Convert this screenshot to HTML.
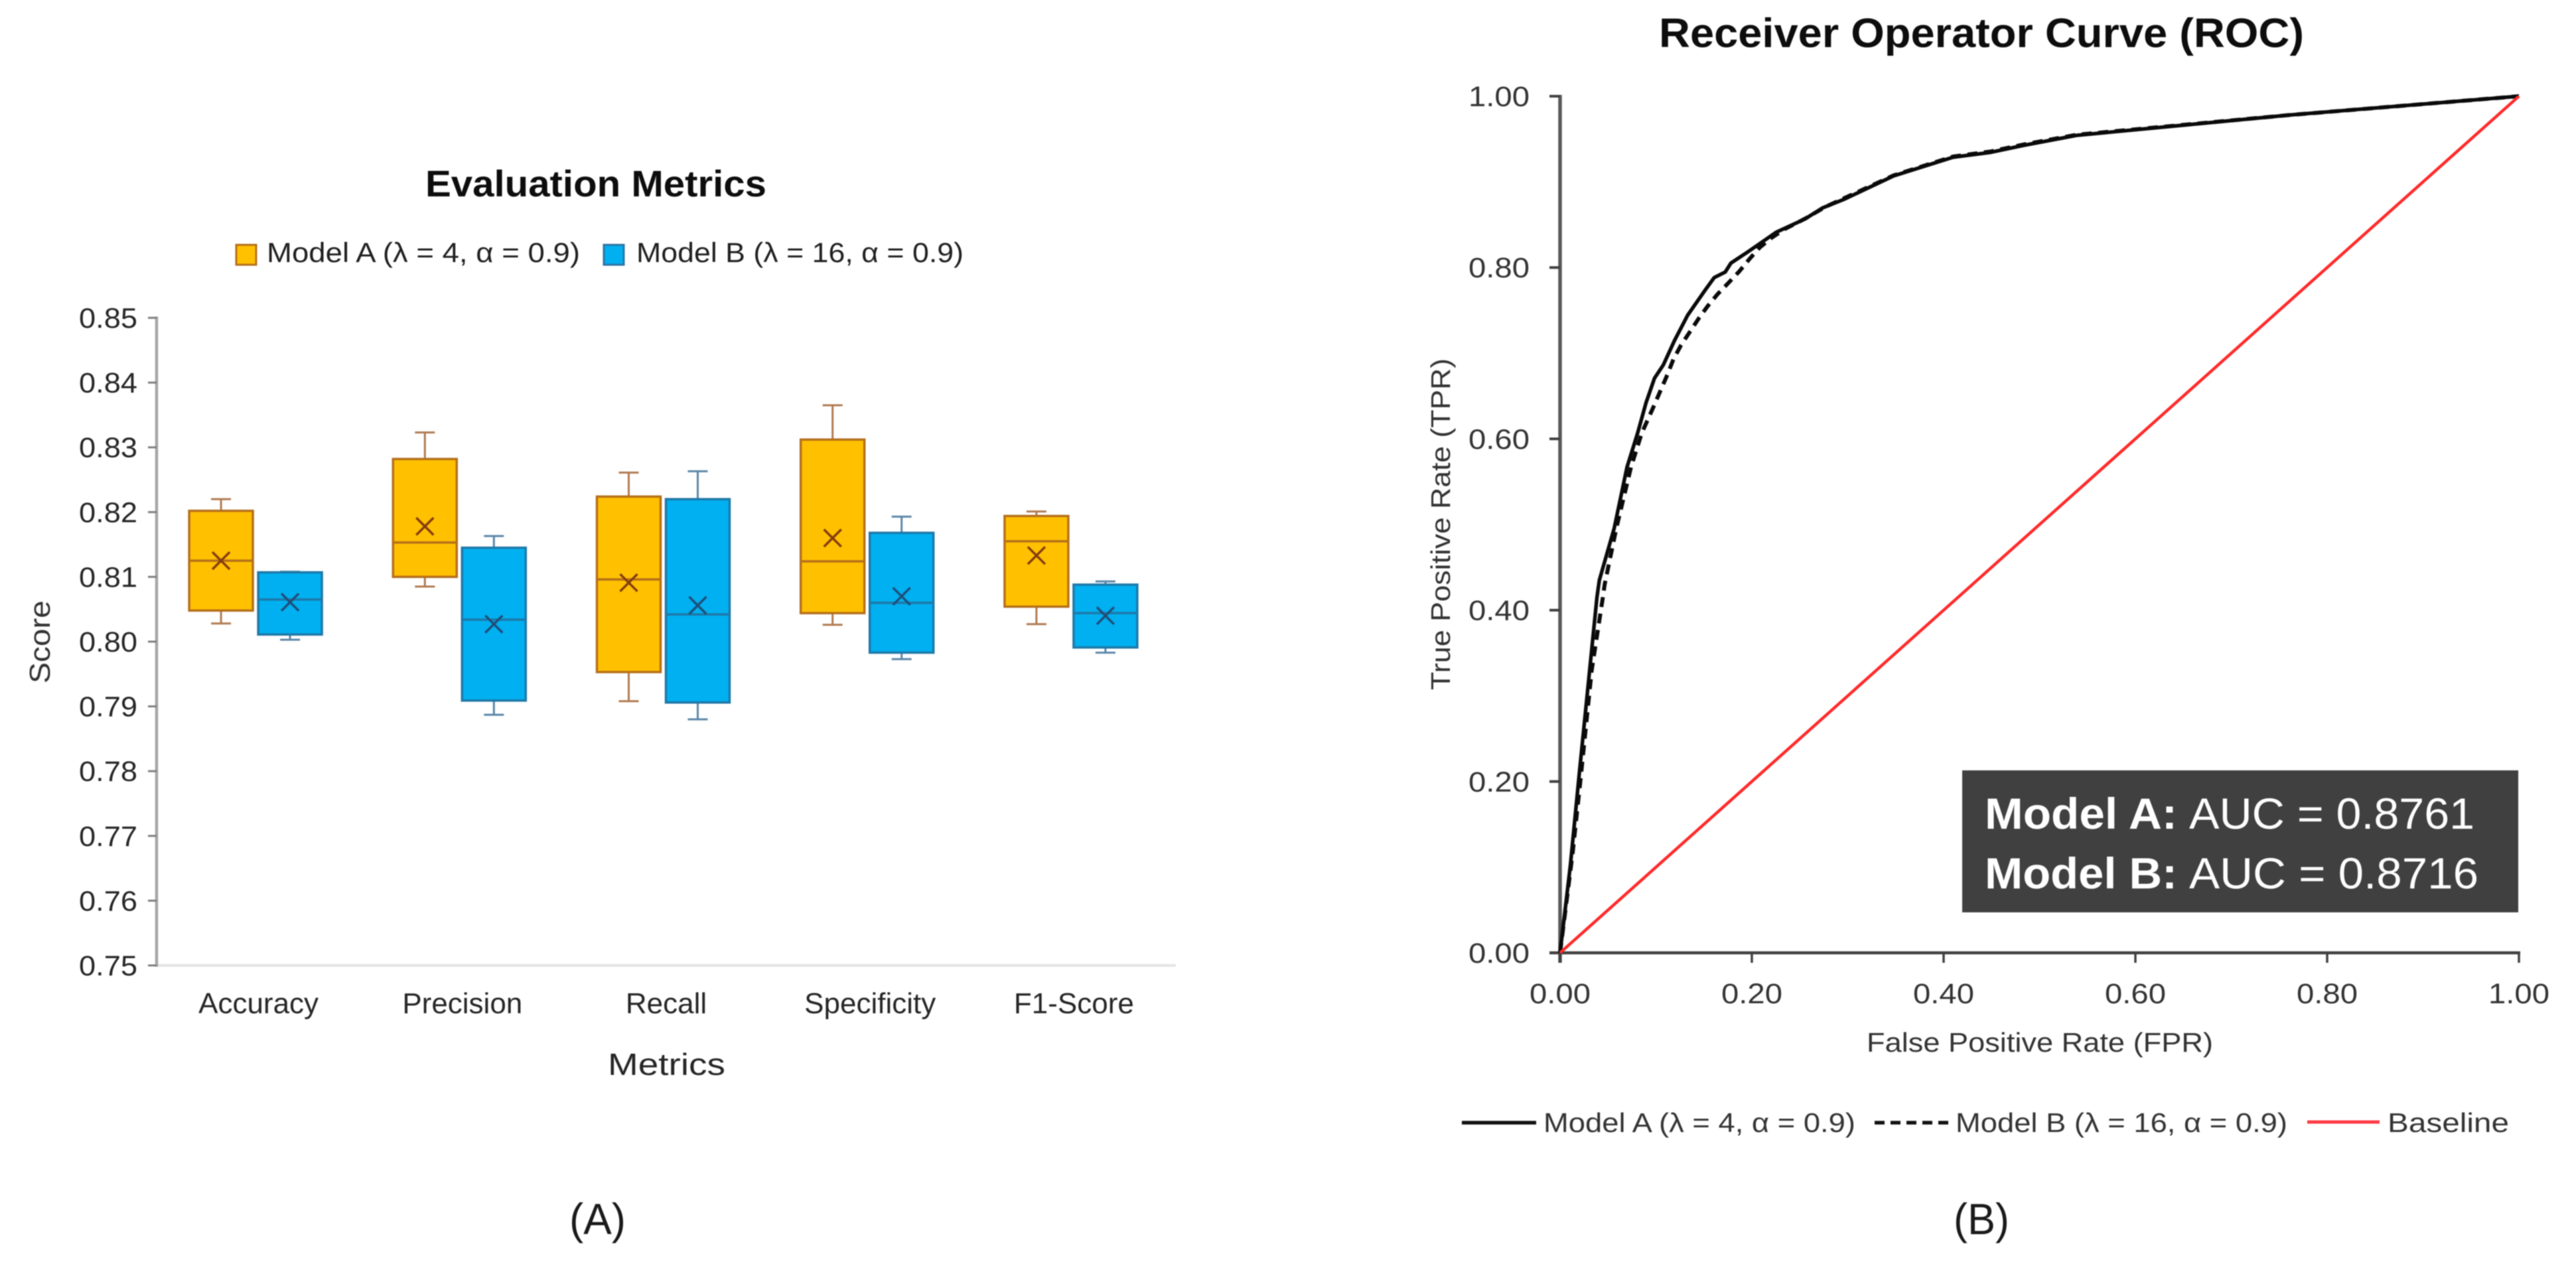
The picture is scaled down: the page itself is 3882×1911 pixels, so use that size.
<!DOCTYPE html>
<html lang="en">
<head>
<meta charset="utf-8">
<title>Evaluation Metrics and ROC</title>
<style>
html,body{margin:0;padding:0;background:#fff;}
svg{display:block;filter:blur(0.7px);}
text{font-family:"Liberation Sans",sans-serif;}
</style>
</head>
<body>
<svg id="figure" xmlns="http://www.w3.org/2000/svg" width="3882" height="1911" viewBox="0 0 3882 1911">
  <rect width="3882" height="1911" fill="#ffffff"/>

  <g id="panel-a">
    <text x="641" y="296" font-size="56" font-weight="700" fill="#0d0d0d" textLength="514" lengthAdjust="spacingAndGlyphs">Evaluation Metrics</text>
    <rect x="356" y="369" width="30" height="30" fill="#FFC000" stroke="#B5701A" stroke-width="3"/>
    <text x="402" y="395" font-size="42" fill="#1f1f1f" textLength="472" lengthAdjust="spacingAndGlyphs">Model A (λ = 4, α = 0.9)</text>
    <rect x="910" y="369" width="30" height="30" fill="#00B0F0" stroke="#2E75A6" stroke-width="3"/>
    <text x="959" y="395" font-size="42" fill="#1f1f1f" textLength="493" lengthAdjust="spacingAndGlyphs">Model B (λ = 16, α = 0.9)</text>
    <text transform="translate(75,1030) rotate(-90)" font-size="44" fill="#333333" textLength="125" lengthAdjust="spacingAndGlyphs">Score</text>
    <text x="916" y="1620" font-size="46" fill="#262626" textLength="177" lengthAdjust="spacingAndGlyphs">Metrics</text>
    <text x="858" y="1860" font-size="66" fill="#1a1a1a" textLength="85" lengthAdjust="spacingAndGlyphs">(A)</text>
    <g id="box-axes"></g>
    <g id="box-marks"></g>
  </g>

  <g id="panel-b">
    <text x="2500" y="71" font-size="62" font-weight="700" fill="#0d0d0d" textLength="972" lengthAdjust="spacingAndGlyphs">Receiver Operator Curve (ROC)</text>
    <text transform="translate(2185,1040) rotate(-90)" font-size="41" fill="#333333" textLength="500" lengthAdjust="spacingAndGlyphs">True Positive Rate (TPR)</text>
    <text x="2813" y="1585" font-size="41" fill="#333333" textLength="522" lengthAdjust="spacingAndGlyphs">False Positive Rate (FPR)</text>
    <g id="roc-axes"></g>
    <g id="roc-marks"></g>
    <g>
      <rect x="2957" y="1161" width="838" height="214" fill="#404040"/>
      <text x="2991" y="1249" font-size="66" font-weight="700" fill="#ffffff" textLength="290" lengthAdjust="spacingAndGlyphs">Model A:</text>
      <text x="3299" y="1249" font-size="66" fill="#ffffff" textLength="430" lengthAdjust="spacingAndGlyphs">AUC = 0.8761</text>
      <text x="2991" y="1339" font-size="66" font-weight="700" fill="#ffffff" textLength="290" lengthAdjust="spacingAndGlyphs">Model B:</text>
      <text x="3299" y="1339" font-size="66" fill="#ffffff" textLength="436" lengthAdjust="spacingAndGlyphs">AUC = 0.8716</text>
    </g>
    <line x1="2203" y1="1692" x2="2315" y2="1692" stroke="#111111" stroke-width="5.5"/>
    <text x="2326" y="1706" font-size="41" fill="#333333" textLength="470" lengthAdjust="spacingAndGlyphs">Model A (λ = 4, α = 0.9)</text>
    <line x1="2825" y1="1692" x2="2938" y2="1692" stroke="#111111" stroke-width="5.5" stroke-dasharray="15 9"/>
    <text x="2947" y="1706" font-size="41" fill="#333333" textLength="500" lengthAdjust="spacingAndGlyphs">Model B (λ = 16, α = 0.9)</text>
    <line x1="3477" y1="1691" x2="3586" y2="1691" stroke="#ff3b45" stroke-width="5"/>
    <text x="3598" y="1706" font-size="41" fill="#333333" textLength="183" lengthAdjust="spacingAndGlyphs">Baseline</text>
    <text x="2944" y="1860" font-size="66" fill="#1a1a1a" textLength="84" lengthAdjust="spacingAndGlyphs">(B)</text>
  </g>
</svg>

<script>
// ---- Box plot data (panel A) ----
const categories = ["Accuracy", "Precision", "Recall", "Specificity", "F1-Score"];
const scoreTicks = [0.75, 0.76, 0.77, 0.78, 0.79, 0.80, 0.81, 0.82, 0.83, 0.84, 0.85];

const highA   = [0.8220, 0.8323, 0.8261, 0.8365, 0.8201];
const q3A     = [0.8202, 0.8282, 0.8224, 0.8312, 0.8194];
const medianA = [0.8125, 0.8153, 0.8096, 0.8124, 0.8155];
const meanA   = [0.8125, 0.8178, 0.8091, 0.8160, 0.8133];
const q1A     = [0.8048, 0.8100, 0.7953, 0.8044, 0.8054];
const lowA    = [0.8028, 0.8085, 0.7908, 0.8026, 0.8027];

const highB   = [0.8108, 0.8163, 0.8263, 0.8193, 0.8093];
const q3B     = [0.8107, 0.8145, 0.8220, 0.8168, 0.8088];
const medianB = [0.8065, 0.8034, 0.8042, 0.8060, 0.8044];
const meanB   = [0.8061, 0.8027, 0.8056, 0.8070, 0.8040];
const q1B     = [0.8011, 0.7909, 0.7906, 0.7983, 0.7991];
const lowB    = [0.8003, 0.7887, 0.7880, 0.7973, 0.7983];

// ---- ROC data (panel B) ----
const rocTicks = [0, 0.2, 0.4, 0.6, 0.8, 1];
const fprA = [0, 0.0108, 0.02, 0.0385, 0.041, 0.0565, 0.0698, 0.0808, 0.0896, 0.0985, 0.1077, 0.1193, 0.1331, 0.1516, 0.1608, 0.1723, 0.1781, 0.1954, 0.2254, 0.2554, 0.2738, 0.2969, 0.3478, 0.4097, 0.4491, 0.4837, 0.5386, 0.7605, 1];
const tprA = [0, 0.1026, 0.2086, 0.4152, 0.435, 0.4957, 0.567, 0.6065, 0.642, 0.6708, 0.6863, 0.7147, 0.7444, 0.7741, 0.7883, 0.7948, 0.8051, 0.818, 0.8412, 0.8567, 0.8696, 0.88, 0.907, 0.9287, 0.9345, 0.9427, 0.9543, 0.978, 1];
const fprB = [0, 0.0131, 0.0212, 0.033, 0.0443, 0.0465, 0.0587, 0.074, 0.0851, 0.0974, 0.1123, 0.1181, 0.1262, 0.1354, 0.1446, 0.1538, 0.1642, 0.1758, 0.1873, 0.1977, 0.2081, 0.2208, 0.2346, 0.2554, 0.2771, 0.3478, 0.4097, 0.4491, 0.4837, 0.5386, 0.7605, 1];
const tprB = [0, 0.1162, 0.2006, 0.33, 0.4125, 0.43, 0.4957, 0.567, 0.6065, 0.6372, 0.676, 0.6927, 0.7095, 0.725, 0.7405, 0.7547, 0.7689, 0.7823, 0.796, 0.8102, 0.8232, 0.8349, 0.8451, 0.857, 0.871, 0.9075, 0.9295, 0.9355, 0.9437, 0.955, 0.978, 1];
const baselineFpr = [0, 1];
const baselineTpr = [0, 1];

// ---- Axis functions ----
const SVGNS = "http://www.w3.org/2000/svg";
const scoreY = v => 479 + (0.85 - v) * 9760;
const categoryX = i => 236 + (i + 0.5) * 307.2;
const rocX = v => 2351 + v * 1445;
const rocY = v => 1436 - v * 1291;

function make(tag, parent, props, label) {
  const el = document.createElementNS(SVGNS, tag);
  for (const k in props) el.setAttribute(k, props[k]);
  if (label !== undefined) el.textContent = label;
  parent.appendChild(el);
  return el;
}

// ---- Panel A axes ----
const boxAxes = document.getElementById("box-axes");
const boxMarks = document.getElementById("box-marks");

const boxXAxis = make("line", boxAxes, {x1: 236, y1: scoreY(0.75), x2: 1772, y2: scoreY(0.75), stroke: "#e4e4e4", "stroke-width": 4});


const boxYAxis = make("line", boxAxes, {x1: 236, y1: scoreY(0.85) - 2, x2: 236, y2: scoreY(0.75) + 2, stroke: "#a6a6a6", "stroke-width": 4.5});



scoreTicks.forEach(t => {
  const tick = make("line", boxAxes, {x1: 223, y1: scoreY(t), x2: 236, y2: scoreY(t), stroke: "#7f7f7f", "stroke-width": 3});
  
  
  const label = make("text", boxAxes, {x: 207, y: scoreY(t) + 15, "text-anchor": "end", "font-size": 43, fill: "#262626", textLength: 88, lengthAdjust: "spacingAndGlyphs"}, t.toFixed(2));
  
  
});

categories.forEach((c, i) => {
  const label = make("text", boxAxes, {x: categoryX(i), y: 1527, "text-anchor": "middle", "font-size": 44, fill: "#262626"}, c);
  
  
});

// ---- Panel A boxes ----
function drawBoxes(series, name, offset, fill, stroke, markColor, whiskerColor) {
  categories.forEach((c, i) => {
    const cx = categoryX(i) - 4.5 + offset;
    const w = 96;
    const group = make("g", boxMarks, {});
    
    

    const whisker = make("path", group, {
      d: "M" + cx + " " + scoreY(series.high[i]) + "V" + scoreY(series.q3[i]) +
         "M" + cx + " " + scoreY(series.q1[i]) + "V" + scoreY(series.low[i]) +
         "M" + (cx - 15) + " " + scoreY(series.high[i]) + "H" + (cx + 15) +
         "M" + (cx - 15) + " " + scoreY(series.low[i]) + "H" + (cx + 15),
      fill: "none", stroke: whiskerColor, "stroke-width": 3
    });
    
    

    const box = make("rect", group, {
      x: cx - w / 2, y: scoreY(series.q3[i]), width: w,
      height: scoreY(series.q1[i]) - scoreY(series.q3[i]),
      fill: fill, stroke: stroke, "stroke-width": 3.5
    });
    
    

    const median = make("line", group, {
      x1: cx - w / 2, x2: cx + w / 2, y1: scoreY(series.median[i]), y2: scoreY(series.median[i]),
      stroke: stroke, "stroke-width": 3.5
    });
    
    

    const my = scoreY(series.mean[i]);
    const mean = make("path", group, {
      d: "M" + (cx - 13) + " " + (my - 13) + "L" + (cx + 13) + " " + (my + 13) +
         "M" + (cx + 13) + " " + (my - 13) + "L" + (cx - 13) + " " + (my + 13),
      fill: "none", stroke: markColor, "stroke-width": 3.5
    });
    
    
  });
}

drawBoxes({high: highA, q3: q3A, median: medianA, mean: meanA, q1: q1A, low: lowA}, "model-a", -52, "#FFC000", "#B5701A", "#843C0C", "#B07A50");
drawBoxes({high: highB, q3: q3B, median: medianB, mean: meanB, q1: q1B, low: lowB}, "model-b", 52, "#00B0F0", "#1F78A8", "#1F4E79", "#5B86A8");

// ---- Panel B axes ----
const rocAxes = document.getElementById("roc-axes");
const rocMarks = document.getElementById("roc-marks");

const rocYAxis = make("line", rocAxes, {x1: 2351, y1: rocY(1) - 2, x2: 2351, y2: 1451, stroke: "#595959", "stroke-width": 5.5});


const rocXAxis = make("line", rocAxes, {x1: 2335, y1: rocY(0), x2: rocX(1) + 2, y2: rocY(0), stroke: "#404040", "stroke-width": 4.5});



rocTicks.forEach(t => {
  const yTick = make("line", rocAxes, {x1: 2335, y1: rocY(t), x2: 2351, y2: rocY(t), stroke: "#404040", "stroke-width": 4});
  
  
  const yLabel = make("text", rocAxes, {x: 2305, y: rocY(t) + 15, "text-anchor": "end", "font-size": 43, fill: "#333333", textLength: 92, lengthAdjust: "spacingAndGlyphs"}, t.toFixed(2));
  
  
  const xTick = make("line", rocAxes, {x1: rocX(t), y1: rocY(0), x2: rocX(t), y2: 1451, stroke: "#404040", "stroke-width": 3.5});
  
  
  const xLabel = make("text", rocAxes, {x: rocX(t), y: 1512, "text-anchor": "middle", "font-size": 43, fill: "#333333", textLength: 92, lengthAdjust: "spacingAndGlyphs"}, t.toFixed(2));
  
  
});

// ---- Panel B curves ----
function curvePath(xs, ys) {
  return xs.map((x, i) => (i ? "L" : "M") + rocX(x).toFixed(1) + " " + rocY(ys[i]).toFixed(1)).join("");
}

const curveB = make("path", rocMarks, {d: curvePath(fprB, tprB), fill: "none", stroke: "#0a0a0a", "stroke-width": 6, "stroke-dasharray": "15 10", "stroke-linejoin": "round"});



const curveA = make("path", rocMarks, {d: curvePath(fprA, tprA), fill: "none", stroke: "#0a0a0a", "stroke-width": 5.5, "stroke-linejoin": "round"});



const curveBaseline = make("path", rocMarks, {d: curvePath(baselineFpr, baselineTpr), fill: "none", stroke: "#ff2a2a", "stroke-width": 4.5});


</script>
</body>
</html>
